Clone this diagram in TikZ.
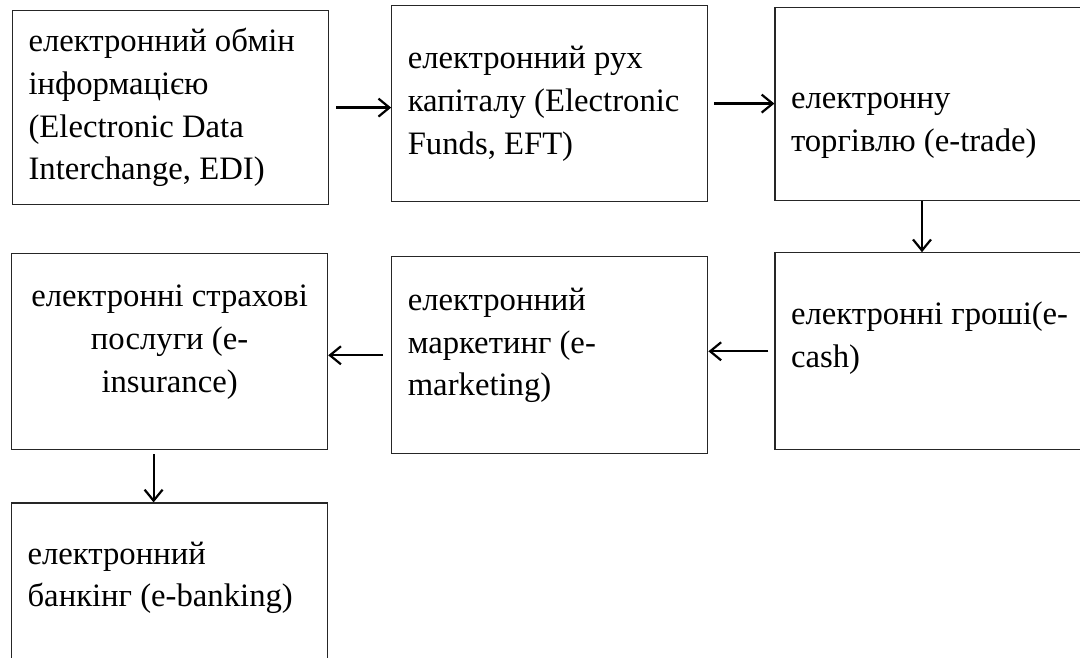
\documentclass[tikz,border=0pt]{standalone}
\usepackage{fontspec}
\setmainfont{Liberation Serif}
\usetikzlibrary{arrows.meta, positioning}

\begin{document}
\begin{tikzpicture}[
    x=1pt, y=-1pt,
    font=\fontsize{32.7}{42.7}\selectfont,
    >={Straight Barb[length=11pt, width=18pt]},
    box/.style={rectangle, draw=black!85, line width=1.2pt, text width=284pt, inner xsep=16pt, align=flush left, anchor=north west},
    flow/.style={->, line width=2.2pt}
]
\useasboundingbox (0,0) rectangle (1080,658);
\clip (0,0) rectangle (1080,658);

% Top row
\node[box, minimum height=194pt] (edi) at (12,10) {електронний обмін\\інформацією\\(Electronic Data\\Interchange, EDI)};
\node[box, minimum height=196pt, right=62pt of edi.north east, anchor=north west, yshift=5pt] (eft) {електронний рух\\капіталу (Electronic\\Funds, EFT)};
\node[box, minimum height=193pt, text height=59pt, right=66pt of eft.north east, anchor=north west, yshift=-2pt] (trade) {електронну\\торгівлю (e-trade)};

% Middle row
\node[box, minimum height=197pt, text depth=76pt, below=51pt of trade.south west, anchor=north west] (cash) {електронні гроші(e-\\cash)};
\node[box, minimum height=197pt, text depth=112pt, left=66pt of cash.north west, anchor=north east, yshift=-4pt] (mkt) {електронний\\маркетинг (e-\\marketing)};
\node[box, minimum height=196pt, text depth=112pt, align=flush center, left=63pt of mkt.north west, anchor=north east, yshift=3pt] (ins) {електронні страхові\\послуги (e-\\insurance)};

% Bottom row
\node[box, minimum height=196pt, text depth=96pt, below=52pt of ins.south west, anchor=north west] (bank) {електронний\\банкінг (e-banking)};

% Arrows
\draw[flow] ([xshift=7pt]edi.east) -- (edi.east -| eft.west);
\draw[flow] ([xshift=6pt]eft.east) -- (eft.east -| trade.west);
\draw[flow] ([xshift=-11pt]trade.south) -- ([xshift=-11pt]cash.north);
\draw[flow] ([xshift=-6pt]cash.west) -- (cash.west -| mkt.east);
\draw[flow] ([xshift=-8pt]mkt.west) -- (mkt.west -| ins.east);
\draw[flow] ([xshift=-16pt, yshift=-4pt]ins.south) -- ([xshift=-16pt]bank.north);

\end{tikzpicture}
\end{document}
